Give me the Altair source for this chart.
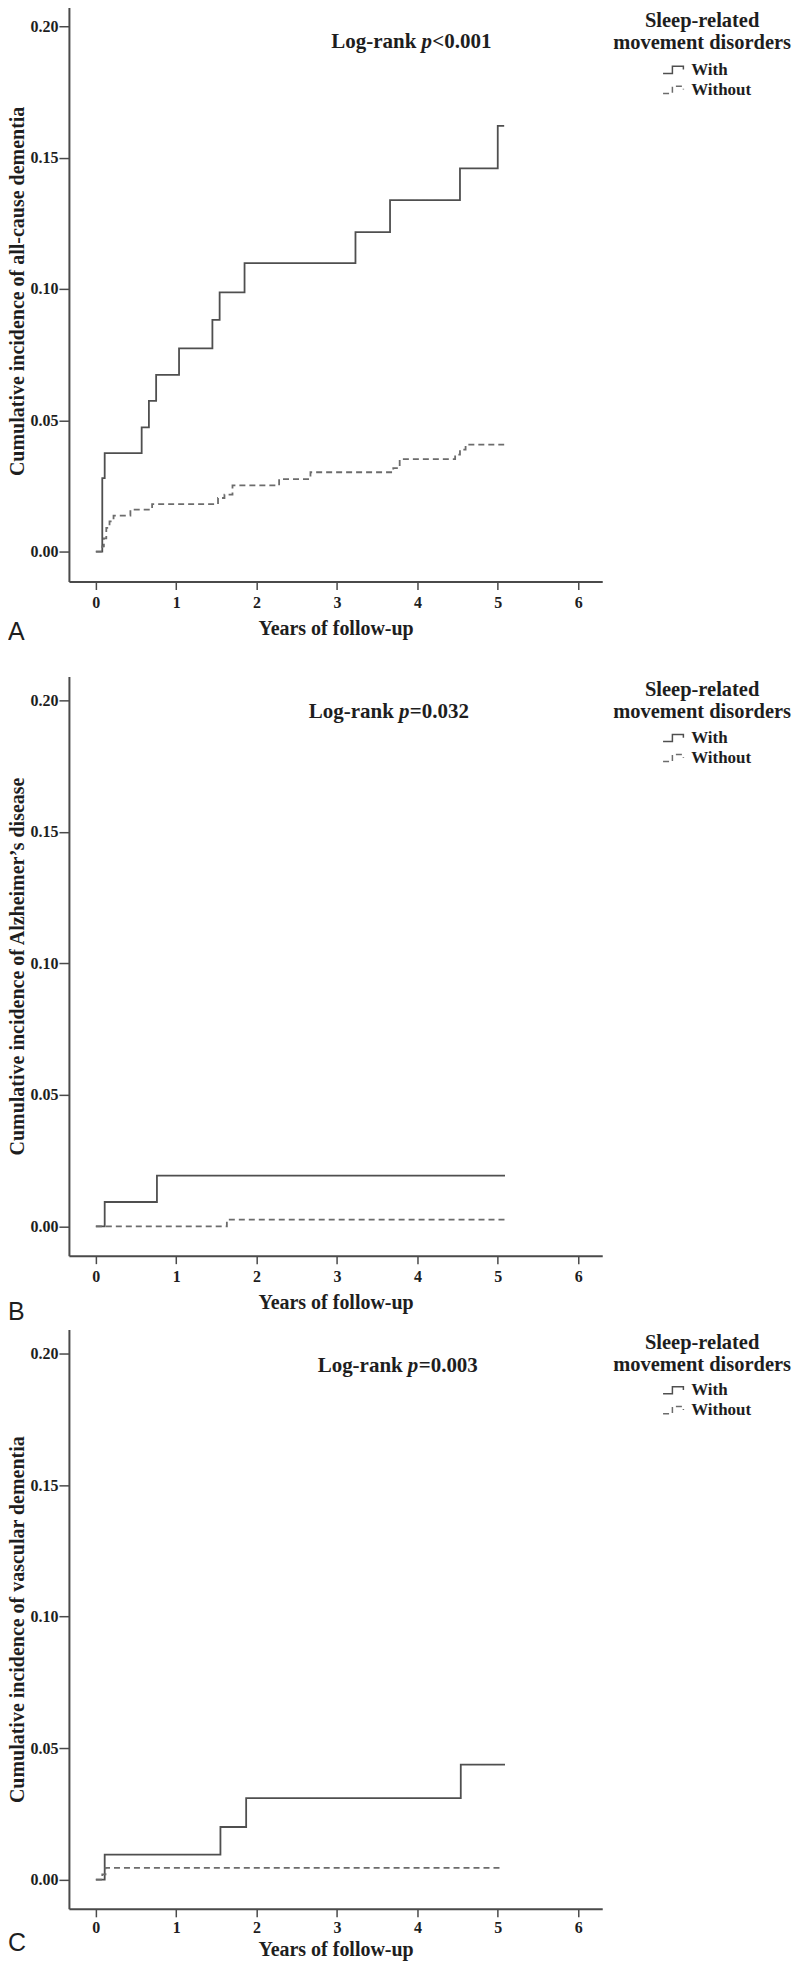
import altair as alt
import pandas as pd

# ---------------- data ----------------
groups = ["With", "Without"]
x_ticks = [0, 1, 2, 3, 4, 5, 6]
y_ticks = [0.0, 0.05, 0.10, 0.15, 0.20]

# Panel A: all-cause dementia
a_with_t = [0, 0.08, 0.11, 0.57, 0.66, 0.75, 1.035, 1.45, 1.54, 1.85, 3.23, 3.66, 4.53, 5.0, 5.08]
a_with_v = [0, 0.028, 0.0375, 0.0473, 0.0574, 0.0673, 0.0774, 0.0882, 0.0987, 0.1098, 0.1216, 0.1338, 0.1459, 0.1621, 0.1621]
a_without_t = [0, 0.08, 0.10, 0.13, 0.17, 0.22, 0.43, 0.70, 1.52, 1.60, 1.70, 2.28, 2.67, 3.70, 3.78, 4.47, 4.53, 4.60, 5.08]
a_without_v = [0, 0.002, 0.005, 0.009, 0.0115, 0.0137, 0.016, 0.0181, 0.0204, 0.0217, 0.0252, 0.0276, 0.0302, 0.0318, 0.0352, 0.0369, 0.0388, 0.0407, 0.0407]

# Panel B: Alzheimer's disease
b_with_t = [0, 0.11, 0.76, 5.09]
b_with_v = [0, 0.0093, 0.0193, 0.0193]
b_without_t = [0, 1.63, 5.09]
b_without_v = [0, 0.0026, 0.0026]

# Panel C: vascular dementia
c_with_t = [0, 0.11, 1.55, 1.87, 4.54, 5.09]
c_with_v = [0, 0.0095, 0.020, 0.031, 0.0437, 0.0437]
c_without_t = [0, 0.08, 0.12, 5.07]
c_without_v = [0, 0.002, 0.0045, 0.0045]

y_titles = [
    "Cumulative incidence of all-cause dementia",
    "Cumulative incidence of Alzheimer\u2019s disease",
    "Cumulative incidence of vascular dementia",
]
letters = ["A", "B", "C"]
p_texts = ["<0.001", "=0.032", "=0.003"]
legend_title = ["Sleep-related", "movement disorders"]
x_title = "Years of follow-up"

# ---------------- styling ----------------
SERIF = "Liberation Serif"
SANS = "Liberation Sans"
TXT = "#1e1e1e"
AX = "#4a4a4a"
LINE_COLORS = ["#4f4f4f", "#6c6c6c"]
STEP_PATH = "M-1.1,0.3 L-0.25,0.3 L-0.25,-0.35 L0.75,-0.35 L0.75,-0.05"


def make_df(wt, wv, ot, ov):
    rows = [{"t": t, "v": v, "group": groups[0]} for t, v in zip(wt, wv)]
    rows += [{"t": t, "v": v, "group": groups[1]} for t, v in zip(ot, ov)]
    return pd.DataFrame(rows)


def text_layer(txt, x, y, **style):
    return alt.Chart(pd.DataFrame({"txt": [txt]})).mark_text(**style).encode(
        x=alt.value(x), y=alt.value(y), text="txt:N")


def panel(df, ytitle, letter, p_text, p_t, p_v, height, ydom,
          title_y, legend_y, letter_y, x_label_pad=5, x_title_pad=8):
    xscale = alt.Scale(domain=[-0.335, 6.3], nice=False, zero=False)
    yscale = alt.Scale(domain=ydom, nice=False, zero=False)
    leg = alt.Legend(
        title=None, orient="none", legendX=595, legendY=legend_y,
        labelFont=SERIF, labelFontSize=17, labelFontWeight="bold",
        labelColor=TXT, symbolType=STEP_PATH, symbolSize=484,
        symbolStrokeWidth=1.5, symbolFillColor="transparent",
        symbolOffset=0, labelOffset=4, rowPadding=0, padding=0,
    )
    lines = alt.Chart(df).mark_line(
        interpolate="step-after", strokeWidth=1.8
    ).encode(
        x=alt.X("t:Q", scale=xscale,
                axis=alt.Axis(values=x_ticks, format="d", title=x_title,
                              labelPadding=x_label_pad, titlePadding=x_title_pad)),
        y=alt.Y("v:Q", scale=yscale,
                axis=alt.Axis(values=y_ticks, format=".2f", title=ytitle)),
        color=alt.Color("group:N",
                        scale=alt.Scale(domain=groups, range=LINE_COLORS),
                        legend=leg),
        strokeDash=alt.StrokeDash(
            "group:N",
            scale=alt.Scale(domain=groups, range=[[1, 0], [6, 4]]),
            legend=leg,
        ),
    )
    ann = alt.Chart(pd.DataFrame({"txt": [p_text]}))
    lr = ann.mark_text(align="right", baseline="middle", dx=-5, font=SERIF,
                       fontSize=21, fontWeight="bold", color=TXT).encode(
        x=alt.datum(p_t), y=alt.datum(p_v), text=alt.value("Log-rank"))
    pp = ann.mark_text(align="left", baseline="middle", dx=0, font=SERIF,
                       fontSize=21, fontWeight="bold", fontStyle="italic",
                       color=TXT).encode(
        x=alt.datum(p_t), y=alt.datum(p_v), text=alt.value("p"))
    pv = ann.mark_text(align="left", baseline="middle", dx=11, font=SERIF,
                       fontSize=21, fontWeight="bold", color=TXT).encode(
        x=alt.datum(p_t), y=alt.datum(p_v), text="txt:N")
    title_style = dict(align="center", baseline="middle", font=SERIF,
                       fontSize=20.5, fontWeight="bold", color=TXT)
    lt1 = text_layer(legend_title[0], 634, title_y, **title_style)
    lt2 = text_layer(legend_title[1], 634, title_y + 22, **title_style)
    let = text_layer(letter, -61, letter_y, align="left", baseline="middle",
                     font=SANS, fontSize=25, color=TXT)
    return alt.layer(lines, lr, pp, pv, lt1, lt2, let).properties(
        width=534, height=height)


dfA = make_df(a_with_t, a_with_v, a_without_t, a_without_v)
dfB = make_df(b_with_t, b_with_v, b_without_t, b_without_v)
dfC = make_df(c_with_t, c_with_v, c_without_t, c_without_v)

pA = panel(dfA, y_titles[0], letters[0], p_texts[0], 4.05, 0.1939, 582,
           [-0.0114, 0.2099], 21, 58, 633)
pB = panel(dfB, y_titles[1], letters[1], p_texts[1], 3.77, 0.1957, 580,
           [-0.0111, 0.2091], 14, 50, 636)
pC = panel(dfC, y_titles[2], letters[2], p_texts[2], 3.88, 0.1953, 580,
           [-0.0111, 0.2091], 13, 49, 614, x_label_pad=3, x_title_pad=4)

inner = alt.vconcat(pB, pC, spacing=5).resolve_scale(
    x="independent", y="independent", strokeDash="independent", color="independent"
).resolve_legend(strokeDash="independent", color="independent")

chart = alt.vconcat(pA, inner, spacing=31).resolve_scale(
    x="independent", y="independent", strokeDash="independent", color="independent"
).resolve_legend(strokeDash="independent", color="independent").properties(
    padding={"left": 0, "top": -9, "right": 0, "bottom": 0}, background="white"
).configure_view(stroke=None).configure_axis(
    labelFont=SERIF, labelFontWeight="bold", labelFontSize=16, labelColor=TXT,
    titleFont=SERIF, titleFontWeight="bold", titleFontSize=20, titleColor=TXT,
    domainColor=AX, domainWidth=2, tickColor=AX, tickWidth=1.5, grid=False,
).configure_axisY(tickSize=10, labelPadding=1, titlePadding=2).configure_axisX(
    tickSize=8
)

chart.save("out.html", embed_options={"renderer": "svg", "actions": False})
